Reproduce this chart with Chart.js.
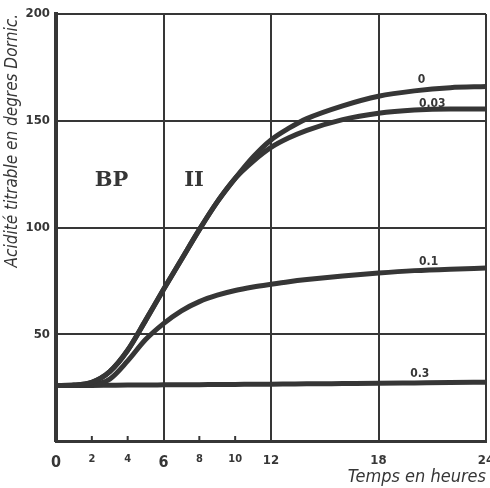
<!DOCTYPE html>
<html>
<head>
<meta charset="utf-8">
<script src="https://cdn.jsdelivr.net/npm/chart.js@4.4.0/dist/chart.umd.min.js"></script>
<style>
  html, body { margin: 0; padding: 0; background: #fff; }
  #wrap { width: 490px; height: 488px; }
</style>
</head>
<body>
<div id="wrap"><canvas id="myChart" width="490" height="488"></canvas></div>
<script>
// Temps en heures
const hours = [0, 1, 2, 3, 4, 5, 6, 7, 8, 9, 10, 11, 12, 13, 14, 16, 18, 20, 22, 24];

// Acidité titrable (degrés Dornic) par concentration
const acid0   = [26, 26.2, 27.5, 32.5, 42.5, 56.5, 71, 85, 99, 112, 123, 133, 141, 146.5, 151, 157, 161.5, 164, 165.5, 166];
const acid003 = [26, 26.2, 27.5, 32.5, 42.5, 56.5, 71, 85, 99, 112, 123, 131, 137.5, 142, 145.5, 150.5, 153.5, 155, 155.5, 155.5];
const acid01  = [26, 26, 26.3, 29, 37.5, 47.5, 55, 61, 65.3, 68.3, 70.5, 72.1, 73.4, 74.6, 75.6, 77.3, 78.7, 79.8, 80.5, 81];
const acid03  = [26, 26, 26, 26.1, 26.2, 26.2, 26.3, 26.4, 26.4, 26.5, 26.5, 26.6, 26.6, 26.7, 26.8, 26.9, 27, 27.2, 27.4, 27.5];

const seriesNames = ['0', '0.03', '0.1', '0.3'];
// position of each curve's label, in hours / degrees
const labelHour  = [20.4, 21, 20.8, 20.3];
const labelValue = [169, 158, 84, 31.5];

const xTickValues = [0, 2, 4, 6, 8, 10, 12, 18, 24];
const xGridValues = [6, 12, 18, 24];
const xMinorTicks = [2, 4, 8, 10];
const yTickValues = [0, 50, 100, 150, 200];

const ink = '#363636';

const toPoints = arr => arr.map((v, i) => ({ x: hours[i], y: v }));

const extraText = {
  id: 'extraText',
  afterDatasetsDraw(chart) {
    const { ctx, scales: { x, y } } = chart;
    ctx.save();
    // petites graduations
    ctx.strokeStyle = ink;
    ctx.lineWidth = 2;
    xMinorTicks.forEach(h => {
      const px = x.getPixelForValue(h);
      ctx.beginPath();
      ctx.moveTo(px, y.bottom);
      ctx.lineTo(px, y.bottom - 5);
      ctx.stroke();
    });
    // étiquettes des courbes
    ctx.fillStyle = ink;
    ctx.font = 'bold 12px "DejaVu Sans Condensed"';
    ctx.textAlign = 'center';
    ctx.textBaseline = 'middle';
    seriesNames.forEach((name, i) => {
      ctx.fillText(name, x.getPixelForValue(labelHour[i]), y.getPixelForValue(labelValue[i]));
    });
    // BP  II
    ctx.font = 'bold 21px "DejaVu Serif"';
    ctx.fillText('BP', x.getPixelForValue(3.1), y.getPixelForValue(122));
    ctx.fillText('II', x.getPixelForValue(7.7), y.getPixelForValue(122));
    ctx.restore();
  }
};

const datasetFor = arr => ({
  data: toPoints(arr),
  borderColor: ink,
  borderWidth: 5,
  pointRadius: 0,
  fill: false,
  cubicInterpolationMode: 'monotone'
});

new Chart(document.getElementById('myChart').getContext('2d'), {
  type: 'line',
  data: {
    datasets: [datasetFor(acid0), datasetFor(acid003), datasetFor(acid01), datasetFor(acid03)]
  },
  options: {
    responsive: false,
    animation: false,
    layout: { padding: { top: 14, right: 4, left: 0, bottom: 0 } },
    plugins: { legend: { display: false }, tooltip: { enabled: false } },
    scales: {
      x: {
        type: 'linear',
        min: 0,
        max: 24,
        afterBuildTicks: scale => { scale.ticks = xTickValues.map(v => ({ value: v })); },
        afterFit: scale => { scale.height = 47; scale.paddingLeft = 0; scale.paddingRight = 0; },
        grid: {
          drawTicks: false,
          lineWidth: 2,
          color: c => xGridValues.includes(c.tick && c.tick.value) ? ink : 'rgba(0,0,0,0)'
        },
        border: { display: true, width: 3, color: ink },
        ticks: {
          padding: 12,
          color: ink,
          maxRotation: 0,
          autoSkip: false,
          font: c => {
            const v = c.tick ? c.tick.value : 0;
            let size = 13;
            if (v === 0 || v === 6) size = 16;
            else if (xMinorTicks.includes(v)) size = 11;
            return { family: '"DejaVu Sans Condensed"', weight: 'bold', size: size };
          }
        },
        title: {
          display: true,
          text: 'Temps en heures',
          align: 'end',
          color: ink,
          padding: { top: -6, bottom: 0 },
          font: { family: '"DejaVu Sans Condensed"', style: 'italic', size: 18 }
        }
      },
      y: {
        min: 0,
        max: 200,
        afterBuildTicks: scale => { scale.ticks = yTickValues.map(v => ({ value: v })); },
        afterFit: scale => { scale.width = 56; },
        grid: { drawTicks: false, lineWidth: 2, color: ink },
        border: { display: true, width: 4, color: ink },
        ticks: {
          padding: 6,
          color: ink,
          callback: v => (v === 0 ? '' : v),
          font: { family: '"DejaVu Sans Condensed"', weight: 'bold', size: 13 }
        },
        title: {
          display: true,
          text: 'Acidité titrable en degres Dornic.',
          align: 'end',
          color: ink,
          padding: { top: 2, bottom: 0 },
          font: { family: '"DejaVu Sans Condensed"', style: 'italic', size: 17 }
        }
      }
    }
  },
  plugins: [extraText]
});
</script>
</body>
</html>
